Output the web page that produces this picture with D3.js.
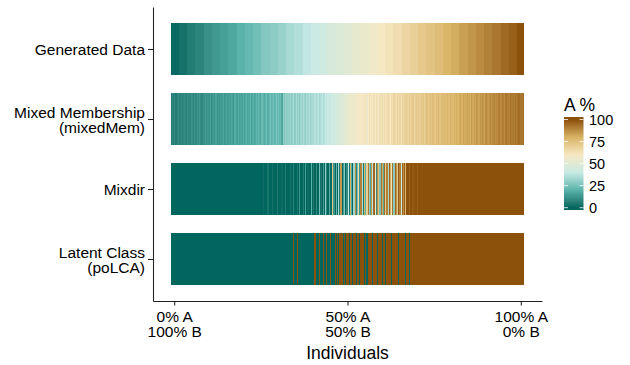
<!DOCTYPE html>
<html lang="en">
<head>
  <meta charset="UTF-8">
  <title>A % by individual</title>
  <script src="https://d3js.org/d3.v7.min.js"></script>
  <style>
    body { margin: 0; background: #fff; }
    svg { font-family: "Liberation Sans", Arial, Helvetica, sans-serif; }
  </style>
</head>
<body>
  <div id="chart"></div>
  <script>
    // rows, top to bottom
    const methods = ["generated", "mixedMem", "mixdir", "poLCA"];
    const methodLabels = [
      ["Generated Data"],
      ["Mixed Membership", "(mixedMem)"],
      ["Mixdir"],
      ["Latent Class", "(poLCA)"]
    ];

    // A % for each individual (300 per row, ordered by the generated value)
    const generated = [
      1,1,1,1,1,1,1, 3,3,3,3,3,3,3, 6,6,6,6,6,6,6, 8,8,8,8,8,8,8,
      11,11,11,11,11,11,11, 13,13,13,13,13,13,13, 15,15,15,15,15,15,15, 17,17,17,17,17,17,17,
      20,20,20,20,20,20,20, 22,22,22,22,22,22,22, 24,24,24,24,24,24,24, 27,27,27,27,27,27,27,
      29,29,29,29,29,29,29, 31,31,31,31,31,31,31, 34,34,34,34,34,34,34, 36,36,36,36,36,36,36,
      39,39,39,39,39,39,39, 41,41,41,41,41,41,41, 43,43,43,43,43,43,43, 46,46,46,46,46,46,46,
      48,48,48,48,48,48,48, 50,50,50,50,50,50,50, 53,53,53,53,53,53,53, 55,55,55,55,55,55,55,
      57,57,57,57,57,57,57, 60,60,60,60,60,60,60, 62,62,62,62,62,62,62, 64,64,64,64,64,64,64,
      67,67,67,67,67,67,67, 69,69,69,69,69,69,69, 72,72,72,72,72,72,72, 74,74,74,74,74,74,74,
      76,76,76,76,76,76,76, 79,79,79,79,79,79,79, 81,81,81,81,81,81,81, 84,84,84,84,84,84,84,
      86,86,86,86,86,86,86, 88,88,88,88,88,88,88, 90,90,90,90,90,90,90, 92,92,92,92,92,92,92,
      95,95,95,95,95,95,95, 97,97,97,97,97,97,97, 100,100,100,100,100,100
    ];
    const mixedMem = [
      6,8,7,9,6,8,10,7,8,9,
      8,10,9,7,11,9,8,12,10,9,
      11,9,12,10,13,10,9,12,11,14,
      11,13,12,15,10,13,14,12,16,11,
      14,12,15,13,17,12,14,16,13,15,
      14,17,15,13,18,16,14,19,15,17,
      16,19,15,18,20,16,17,21,15,18,
      19,17,21,18,22,19,17,23,20,18,
      21,23,19,22,25,20,22,24,21,26,
      22,24,21,23,17,29,27,31,28,30,
      29,32,28,31,33,29,34,30,32,28,
      33,31,35,32,30,34,33,36,31,34,
      35,33,37,34,36,38,33,36,39,35,
      37,40,38,41,39,43,41,44,42,45,
      44,47,45,49,46,50,48,52,50,53,
      52,55,53,57,54,56,58,55,57,59,
      58,60,57,61,59,62,56,60,63,59,
      62,59,63,60,64,61,58,63,62,65,
      62,65,61,64,66,63,60,65,64,67,
      66,64,68,65,67,63,69,66,68,70,
      69,67,71,68,70,72,67,70,73,69,
      72,70,73,71,74,69,73,75,72,74,
      75,73,76,74,72,77,75,78,74,76,
      77,75,78,76,79,77,75,80,78,77,
      80,78,81,79,77,82,80,79,83,81,
      82,84,81,83,80,85,82,84,83,86,
      85,83,86,84,87,85,83,88,86,85,
      87,89,86,88,90,87,89,88,91,88,
      89,91,90,88,92,90,91,89,93,91,
      92,90,93,91,92,94,92,93,91,94
    ];
    const mixdir = [
      0,0,0,0,0,0,0,0,0,0,
      0,0,0,0,0,0,0,0,0,0,
      0,0,0,0,0,0,0,0,0,0,
      0,0,0,0,0,0,0,0,0,0,
      0,0,0,0,0,0,0,0,0,0,
      0,0,0,0,0,0,0,0,0,0,
      0,0,0,0,0,0,0,0,0,0,
      0,0,0,0,0,0,0,0,2,0,
      0,0,4,0,0,0,3,0,0,0,
      5,0,0,0,2,0,0,6,0,0,
      0,3,0,0,8,0,0,4,0,12,
      0,0,6,0,15,0,2,0,0,20,
      0,5,0,10,0,0,25,3,0,14,
      0,30,8,0,18,2,0,72,12,0,
      22,0,35,5,85,0,15,28,0,10,
      40,3,78,18,0,32,88,8,25,65,
      12,90,35,5,80,20,70,92,30,15,
      85,38,95,60,10,88,75,25,92,82,
      18,95,70,90,35,97,80,62,93,28,
      96,85,72,98,90,40,95,88,97,78,
      100,100,96,100,100,98,100,100,100,97,
      100,100,100,99,100,100,100,100,100,100,
      100,100,100,100,100,100,100,100,100,100,
      100,100,100,100,100,100,100,100,100,100,
      100,100,100,100,100,100,100,100,100,100,
      100,100,100,100,100,100,100,100,100,100,
      100,100,100,100,100,100,100,100,100,100,
      100,100,100,100,100,100,100,100,100,100,
      100,100,100,100,100,100,100,100,100,100,
      100,100,100,100,100,100,100,100,100,100
    ];
    const latentClass = [
      0,0,0,0,0,0,0,0,0,0,
      0,0,0,0,0,0,0,0,0,0,
      0,0,0,0,0,0,0,0,0,0,
      0,0,0,0,0,0,0,0,0,0,
      0,0,0,0,0,0,0,0,0,0,
      0,0,0,0,0,0,0,0,0,0,
      0,0,0,0,0,0,0,0,0,0,
      0,0,0,0,0,0,0,0,0,0,
      0,0,0,0,0,0,0,0,0,0,
      0,0,0,0,0,0,0,0,0,0,
      0,0,0,0,100,0,0,100,0,0,
      0,0,0,0,0,0,0,0,0,0,
      0,0,100,0,0,0,100,0,0,100,
      0,0,100,0,0,100,0,0,0,100,
      0,100,0,100,100,100,0,100,0,100,
      100,0,100,100,0,100,100,0,100,100,
      0,100,100,100,0,100,0,100,100,100,
      100,0,100,100,100,0,100,100,100,0,
      100,100,0,100,100,100,100,0,100,100,
      100,100,100,0,100,100,100,100,100,0,
      100,100,0,100,100,100,100,100,100,100,
      100,100,100,100,100,100,100,100,100,100,
      100,100,100,100,100,100,100,100,100,100,
      100,100,100,100,100,100,100,100,100,100,
      100,100,100,100,100,100,100,100,100,100,
      100,100,100,100,100,100,100,100,100,100,
      100,100,100,100,100,100,100,100,100,100,
      100,100,100,100,100,100,100,100,100,100,
      100,100,100,100,100,100,100,100,100,100,
      100,100,100,100,100,100,100,100,100,100
    ];
    const rowValues = [generated, mixedMem, mixdir, latentClass];

    const xTicks = [3, 150, 297];
    const xTickLabels = [["0% A", "100% B"], ["50% A", "50% B"], ["100% A", "0% B"]];
    const legendTicks = [0, 25, 50, 75, 100];
    // BrBG, 6 classes, teal (0) to brown (100)
    const brbg = ["#01665e", "#5ab4ac", "#c7eae5", "#f6e8c3", "#d8b365", "#8c510a"];

    const width = 630, height = 365;
    const panel = { left: 153, right: 542, top: 7, bottom: 301 };
    const n = generated.length;

    const svg = d3.select("#chart").append("svg")
      .attr("width", width)
      .attr("height", height);

    // ggplot-like 5% expansion on the continuous axis
    const x = d3.scaleLinear()
      .domain([-0.05 * n, 1.05 * n])
      .range([panel.left, panel.right]);

    const y = d3.scalePoint()
      .domain(methods)
      .range([panel.top, panel.bottom])
      .padding(0.6);
    const tileH = y.step() * 0.75;

    const color = d3.scaleLinear()
      .domain(d3.range(brbg.length).map(i => i * 100 / (brbg.length - 1)))
      .range(brbg)
      .interpolate(d3.interpolateLab)
      .clamp(true);

    // tiles (crisp edges so neighbouring tiles don't leave seams)
    const rows = svg.append("g")
      .attr("shape-rendering", "crispEdges")
      .selectAll("g")
      .data(methods)
      .enter()
      .append("g")
      .attr("transform", m => `translate(0,${y(m) - tileH / 2})`);

    rows.selectAll("rect")
      .data((m, r) => rowValues[r].map((v, i) => ({ i, v })))
      .enter()
      .append("rect")
      .attr("x", d => x(d.i))
      .attr("width", x(1) - x(0))
      .attr("height", tileH)
      .attr("fill", d => color(d.v));

    // axes
    const xAxis = svg.append("g")
      .attr("transform", `translate(0,${panel.bottom})`)
      .call(d3.axisBottom(x).tickValues(xTicks).tickSize(4.5).tickSizeOuter(0));

    xAxis.selectAll(".tick text").each(function (d, i) {
      const t = d3.select(this).text(null).attr("dy", null).attr("y", null);
      xTickLabels[i].forEach((line, k) => {
        t.append("tspan").attr("x", 0).attr("y", 20.7 + k * 15).text(line);
      });
    });

    const yAxis = svg.append("g")
      .attr("transform", `translate(${panel.left},0)`)
      .call(d3.axisLeft(y).tickSize(5).tickSizeOuter(0));

    yAxis.selectAll(".tick text").each(function (d, i) {
      const lines = methodLabels[i];
      const t = d3.select(this).text(null).attr("dy", null).attr("x", -8);
      lines.forEach((line, k) => {
        const off = lines.length === 1 ? 5.5 : (k === 0 ? -2 : 13);
        t.append("tspan").attr("x", -8).attr("y", off).text(line);
      });
    });

    svg.selectAll(".domain, .tick line")
      .attr("stroke", "#222")
      .attr("stroke-width", 1.07);
    svg.selectAll(".tick text")
      .attr("fill", "#000")
      .attr("font-size", 15.5)
      .attr("font-family", null);

    svg.append("text")
      .attr("x", (panel.left + panel.right) / 2)
      .attr("y", 359)
      .attr("text-anchor", "middle")
      .attr("font-size", 17.5)
      .text("Individuals");

    // colour bar legend
    const legY = d3.scaleLinear().domain([0, 100]).range([207.7, 119.5]);
    const bar = { x: 564, w: 19.5, top: 117, bottom: 210 };

    const grad = svg.append("defs").append("linearGradient")
      .attr("id", "legend-grad")
      .attr("x1", 0).attr("y1", 0).attr("x2", 0).attr("y2", 1);
    grad.selectAll("stop")
      .data(d3.range(0, 41))
      .enter()
      .append("stop")
      .attr("offset", k => k / 40)
      .attr("stop-color", k => color(legY.invert(bar.top + (bar.bottom - bar.top) * k / 40)));

    const legend = svg.append("g");
    legend.append("text")
      .attr("x", 564)
      .attr("y", 111)
      .attr("font-size", 17.5)
      .text("A %");

    legend.append("rect")
      .attr("x", bar.x)
      .attr("y", bar.top)
      .attr("width", bar.w)
      .attr("height", bar.bottom - bar.top)
      .attr("fill", "url(#legend-grad)");

    legend.selectAll(".lt")
      .data(legendTicks)
      .enter()
      .append("g")
      .each(function (v) {
        const g = d3.select(this);
        g.append("line")
          .attr("x1", bar.x).attr("x2", bar.x + 4)
          .attr("y1", legY(v)).attr("y2", legY(v))
          .attr("stroke", "#fff").attr("stroke-width", 0.8);
        g.append("line")
          .attr("x1", bar.x + bar.w - 4).attr("x2", bar.x + bar.w)
          .attr("y1", legY(v)).attr("y2", legY(v))
          .attr("stroke", "#fff").attr("stroke-width", 0.8);
        g.append("text")
          .attr("x", 589)
          .attr("y", legY(v) + 5.2)
          .attr("font-size", 14.5)
          .text(v);
      });
  </script>
</body>
</html>
